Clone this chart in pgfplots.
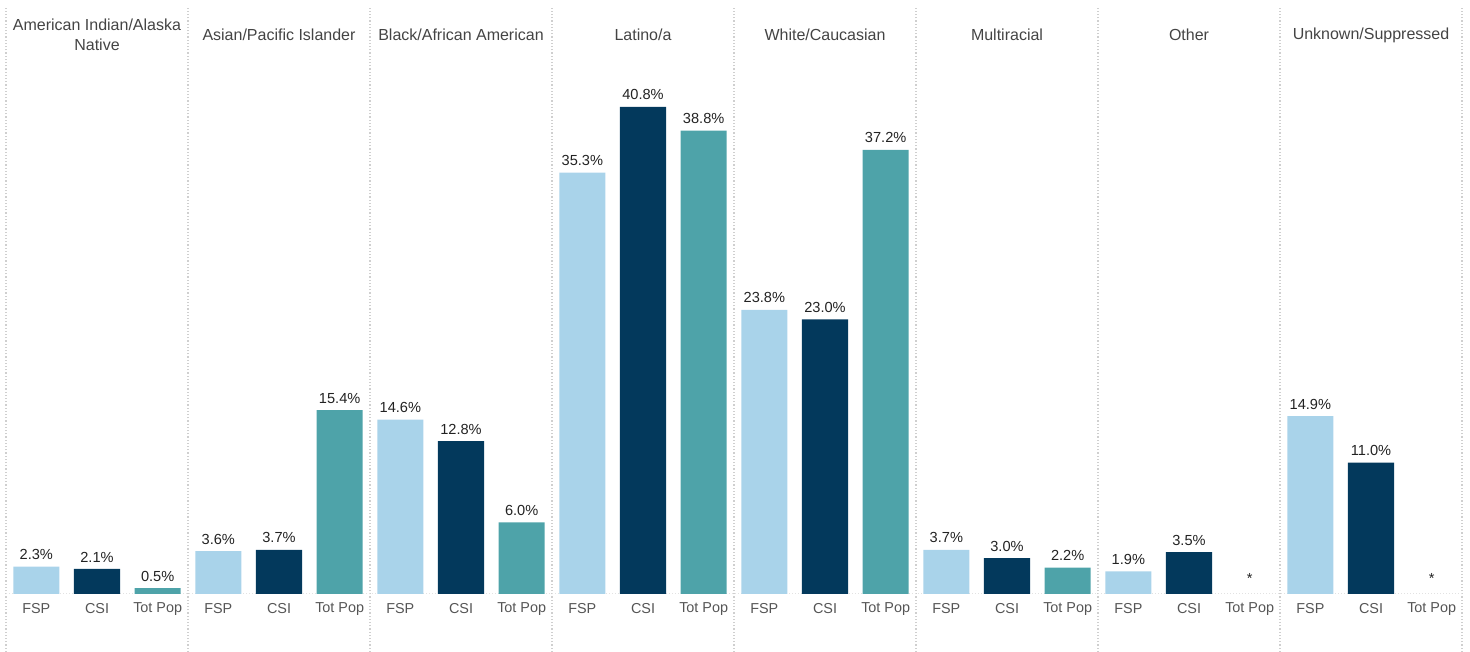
\documentclass[border=0pt]{standalone}
\usepackage{fontspec}
\setmainfont{Liberation Sans}
\usepackage{pgfplots}
\pgfplotsset{compat=1.18}

\definecolor{fsp}{HTML}{A9D3EA}
\definecolor{csi}{HTML}{03395C}
\definecolor{tot}{HTML}{4EA3A9}
\definecolor{sep}{HTML}{CFCFCF}
\definecolor{lbl}{HTML}{555555}
\definecolor{hdr}{HTML}{444444}
\definecolor{val}{HTML}{222222}

\begin{document}
\begin{tikzpicture}
\begin{axis}[
    scale only axis,
    width=728pt, height=326pt,
    xmin=-0.5, xmax=23.5,
    ymin=-4.858, ymax=49.75,
    hide axis,
    clip=false,
    ybar, bar width=0.76, bar shift=0pt,
    /pgf/number format/assume math mode=true,
    nodes near coords={\pgfmathprintnumber[fixed,precision=1,fixed zerofill]{\pgfplotspointmeta}\%},
    every node near coord/.append style={font=\fontsize{7.3}{8}\selectfont, text=val, inner sep=3.2pt},
  ]
  % panel separators
  \pgfplotsinvokeforeach{-0.5,2.5,5.5,8.5,11.5,14.5,17.5,20.5,23.5}{
    \draw[sep, densely dotted, line width=0.6pt] (axis cs:#1,-4.858) -- (axis cs:#1,49.08);
  }
  \draw[sep!60, densely dotted, line width=0.5pt] (axis cs:-0.5,0) -- (axis cs:23.5,0);

  \addplot[fill=fsp, draw=none] coordinates {
    (0,2.3) (3,3.6) (6,14.6) (9,35.3) (12,23.8) (15,3.7) (18,1.9) (21,14.9)
  };
  \addplot[fill=csi, draw=none] coordinates {
    (1,2.1) (4,3.7) (7,12.8) (10,40.8) (13,23.0) (16,3.0) (19,3.5) (22,11.0)
  };
  \addplot[fill=tot, draw=none] coordinates {
    (2,0.5) (5,15.4) (8,6.0) (11,38.8) (14,37.2) (17,2.2)
  };

  % suppressed values
  \addplot[draw=none, mark=none, point meta=explicit symbolic,
    nodes near coords={\pgfplotspointmeta},
    every node near coord/.append style={anchor=center, text=val}]
    coordinates {(20,1.3)[*] (23,1.3)[*]};

  % bar category labels
  \addplot[draw=none, mark=none, point meta=explicit symbolic,
    nodes near coords={\pgfplotspointmeta},
    every node near coord/.append style={anchor=center, text=lbl, font=\fontsize{7.2}{8}\selectfont}]
    coordinates {
      (0,-1.22)[FSP] (1,-1.22)[CSI] (2,-1.22)[Tot Pop]
      (3,-1.22)[FSP] (4,-1.22)[CSI] (5,-1.22)[Tot Pop]
      (6,-1.22)[FSP] (7,-1.22)[CSI] (8,-1.22)[Tot Pop]
      (9,-1.22)[FSP] (10,-1.22)[CSI] (11,-1.22)[Tot Pop]
      (12,-1.22)[FSP] (13,-1.22)[CSI] (14,-1.22)[Tot Pop]
      (15,-1.22)[FSP] (16,-1.22)[CSI] (17,-1.22)[Tot Pop]
      (18,-1.22)[FSP] (19,-1.22)[CSI] (20,-1.22)[Tot Pop]
      (21,-1.22)[FSP] (22,-1.22)[CSI] (23,-1.22)[Tot Pop]
    };

  % panel headers
  \begin{scope}[every node/.style={text=hdr, font=\fontsize{8}{10}\selectfont, align=center}]
    \node at (axis cs:1,46.82) {American Indian/Alaska\\Native};
    \node at (axis cs:4,46.82) {Asian/Pacific Islander};
    \node at (axis cs:7,46.82) {Black/African American};
    \node at (axis cs:10,46.82) {Latino/a};
    \node at (axis cs:13,46.82) {White/Caucasian};
    \node at (axis cs:16,46.82) {Multiracial};
    \node at (axis cs:19,46.82) {Other};
    \node at (axis cs:22,46.82) {Unknown/Suppressed};
  \end{scope}
\end{axis}
\pgfresetboundingbox
\path ([xshift=-3pt]current axis.south west) rectangle ([xshift=4pt]current axis.north east);
\end{tikzpicture}
\end{document}
